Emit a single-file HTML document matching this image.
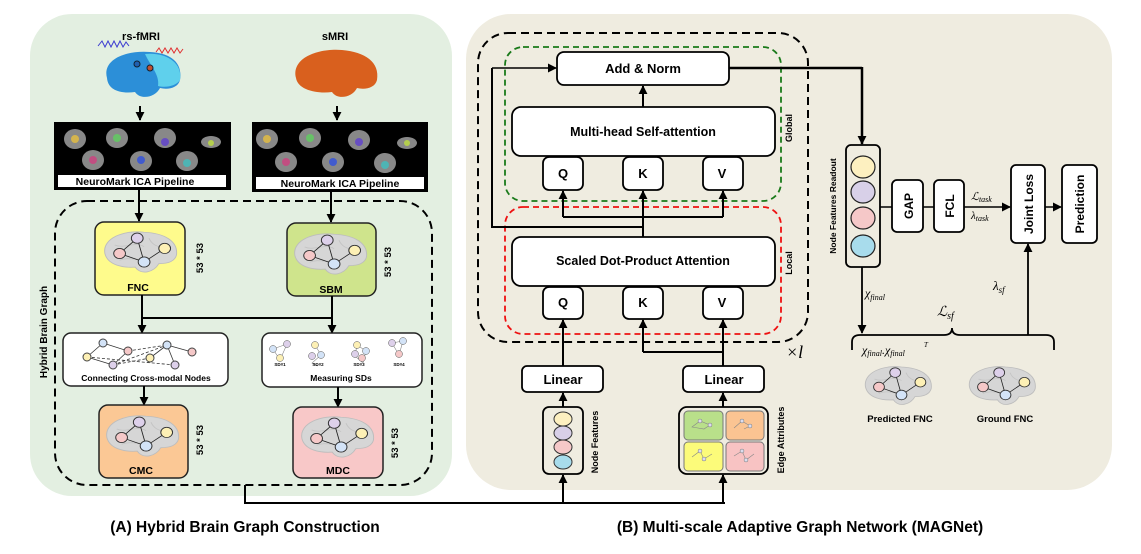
<!DOCTYPE html>
<html><head><meta charset="utf-8"><style>
body{margin:0;background:#fff}
svg{display:block;font-family:"Liberation Sans",Arial,sans-serif}
.b{font-weight:bold}
</style></head><body>
<svg width="1141" height="554" viewBox="0 0 1141 554" xmlns="http://www.w3.org/2000/svg">
<defs>
<marker id="ar" viewBox="0 0 10 10" refX="9" refY="5" markerWidth="9" markerHeight="9" markerUnits="userSpaceOnUse" orient="auto"><path d="M0,0 L10,5 L0,10 z" fill="#000"/></marker>
<g id="brain">
<path d="M5,30 C2,12 25,2 45,5 C65,6 80,15 78,32 C76,40 68,42 60,42 C55,52 42,56 36,46 C24,47 8,44 5,30 Z" fill="#d6d6d6" stroke="#bdbdbd"/>
<path d="M15,20 C25,25 35,15 45,22 M50,12 C55,25 65,20 70,28 M20,38 C30,33 40,40 50,35" fill="none" stroke="#c4c4c4"/>
</g>
<g id="bn">
<use href="#brain"/>
<g stroke="#222" stroke-width="0.9"><line x1="38" y1="12" x2="45" y2="40"/><line x1="20" y1="30" x2="38" y2="12"/><line x1="20" y1="30" x2="45" y2="40"/><line x1="45" y1="40" x2="66" y2="24"/></g>
<circle cx="38" cy="12" r="6" fill="#ddd0ea" stroke="#333"/>
<circle cx="66" cy="24" r="6" fill="#fdf0b5" stroke="#333"/>
<circle cx="20" cy="30" r="6" fill="#f5c8c8" stroke="#333"/>
<circle cx="45" cy="40" r="6" fill="#d3e3f7" stroke="#333"/>
</g>
</defs>

<rect x="30" y="14" width="422" height="482" rx="42" fill="#e3efe1"/>
<rect x="466" y="14" width="646" height="476" rx="45" fill="#efece0"/>

<!-- Panel A -->
<text x="141" y="40" font-size="11" class="b" text-anchor="middle">rs-fMRI</text>
<text x="335" y="40" font-size="11" class="b" text-anchor="middle">sMRI</text>
<path d="M98,46 l4,-5 l3,6 l3,-6 l3,6 l3,-6 l3,6 l3,-6 l3,6 l3,-5 l3,4" fill="none" stroke="#3b3bd0" stroke-width="1"/>
<path d="M156,52 l3,-4 l3,5 l3,-5 l3,5 l3,-5 l3,5 l3,-5 l3,5 l3,-4" fill="none" stroke="#e03030" stroke-width="1"/>
<path d="M107,78 C102,60 125,50 150,52 C170,53 183,62 180,80 C178,88 168,90 160,88 C155,98 140,100 135,92 C120,94 108,90 107,78 Z" fill="#2c8fd8"/>
<path d="M145,54 C165,52 183,62 180,80 C176,86 166,88 158,86 C160,75 150,65 145,54 Z" fill="#5fd0ec"/>
<circle cx="137" cy="64" r="3" fill="#2060b0" stroke="#123"/><circle cx="150" cy="68" r="3" fill="#c05030" stroke="#123"/>
<path d="M296,78 C291,58 318,48 342,50 C365,52 380,62 377,80 C375,88 365,90 357,88 C352,98 337,100 332,92 C317,94 298,90 296,78 Z" fill="#d9601e"/>
<line x1="140" y1="106" x2="140" y2="120" stroke="#000" stroke-width="2" marker-end="url(#ar)"/>
<line x1="337" y1="106" x2="337" y2="120" stroke="#000" stroke-width="2" marker-end="url(#ar)"/>

<rect x="54" y="122" width="177" height="68" fill="#000"/>
<rect x="58" y="175" width="168" height="12" fill="#fff"/>
<text x="135" y="185" font-size="10.5" class="b" text-anchor="middle">NeuroMark ICA Pipeline</text>
<rect x="252" y="122" width="176" height="70" fill="#000"/>
<rect x="256" y="177" width="168" height="12" fill="#fff"/>
<text x="340" y="187" font-size="10.5" class="b" text-anchor="middle">NeuroMark ICA Pipeline</text>
<g fill="#888">
<ellipse cx="75" cy="139" rx="11" ry="10"/><ellipse cx="117" cy="138" rx="11" ry="10"/><ellipse cx="165" cy="138" rx="11" ry="10"/><ellipse cx="211" cy="142" rx="10" ry="6"/>
<ellipse cx="93" cy="160" rx="11" ry="10"/><ellipse cx="141" cy="161" rx="11" ry="10"/><ellipse cx="187" cy="161" rx="11" ry="10"/>
<ellipse cx="267" cy="139" rx="11" ry="10"/><ellipse cx="310" cy="138" rx="11" ry="10"/><ellipse cx="359" cy="140" rx="11" ry="10"/><ellipse cx="407" cy="143" rx="10" ry="6"/>
<ellipse cx="286" cy="162" rx="11" ry="10"/><ellipse cx="333" cy="162" rx="11" ry="10"/><ellipse cx="385" cy="163" rx="11" ry="10"/>
</g>
<g opacity="0.8"><circle cx="75" cy="139" r="4" fill="#e8c040"/><circle cx="117" cy="138" r="4" fill="#60d060"/><circle cx="165" cy="142" r="4" fill="#6040d0"/><circle cx="211" cy="143" r="3" fill="#c0e040"/><circle cx="93" cy="160" r="4" fill="#d04080"/><circle cx="141" cy="160" r="4" fill="#3050e0"/><circle cx="187" cy="163" r="4" fill="#40c0c0"/>
<circle cx="267" cy="139" r="4" fill="#e8c040"/><circle cx="310" cy="138" r="4" fill="#60d060"/><circle cx="359" cy="142" r="4" fill="#6040d0"/><circle cx="407" cy="143" r="3" fill="#c0e040"/><circle cx="286" cy="162" r="4" fill="#d04080"/><circle cx="333" cy="162" r="4" fill="#3050e0"/><circle cx="385" cy="165" r="4" fill="#40c0c0"/></g>

<rect x="55" y="201" width="377" height="284" rx="32" fill="none" stroke="#000" stroke-width="2" stroke-dasharray="8,5"/>
<text transform="translate(47,332) rotate(-90)" font-size="10" class="b" text-anchor="middle">Hybrid Brain Graph</text>

<line x1="139" y1="190" x2="139" y2="221" stroke="#000" stroke-width="2" marker-end="url(#ar)"/>
<line x1="331" y1="192" x2="331" y2="222" stroke="#000" stroke-width="2" marker-end="url(#ar)"/>

<rect x="95" y="222" width="90" height="73" rx="9" fill="#fefb8c" stroke="#222" stroke-width="1.5"/>
<use href="#bn" transform="translate(100,228) scale(0.98,0.85)"/>
<text x="138" y="291" font-size="10.5" class="b" text-anchor="middle">FNC</text>
<rect x="287" y="223" width="89" height="73" rx="9" fill="#cfe48c" stroke="#222" stroke-width="1.5"/>
<use href="#bn" transform="translate(290,230) scale(0.98,0.85)"/>
<text x="331" y="293" font-size="10.5" class="b" text-anchor="middle">SBM</text>
<text transform="translate(203,258) rotate(-90)" font-size="9.5" class="b" text-anchor="middle">53 * 53</text>
<text transform="translate(391,262) rotate(-90)" font-size="9.5" class="b" text-anchor="middle">53 * 53</text>

<path d="M142,295 V318 M332,296 V318 M142,318 H332" stroke="#000" stroke-width="2" fill="none"/>
<line x1="142" y1="318" x2="142" y2="333" stroke="#000" stroke-width="2" marker-end="url(#ar)"/>
<line x1="332" y1="318" x2="332" y2="333" stroke="#000" stroke-width="2" marker-end="url(#ar)"/>

<rect x="63" y="333" width="165" height="53" rx="8" fill="#fff" stroke="#222" stroke-width="1.5"/>
<g stroke="#333" stroke-width="0.8"><line x1="87" y1="357" x2="103" y2="343"/><line x1="103" y1="343" x2="128" y2="351"/><line x1="87" y1="357" x2="113" y2="365"/><line x1="113" y1="365" x2="128" y2="351"/><line x1="167" y1="345" x2="150" y2="358"/><line x1="167" y1="345" x2="175" y2="365"/><line x1="167" y1="345" x2="192" y2="352"/>
<g stroke-dasharray="3,2"><line x1="113" y1="365" x2="150" y2="358"/><line x1="128" y1="351" x2="167" y2="345"/><line x1="87" y1="357" x2="175" y2="365"/><line x1="113" y1="365" x2="167" y2="345"/></g></g>
<circle cx="103" cy="343" r="4" fill="#d3e3f7" stroke="#444"/><circle cx="128" cy="351" r="4" fill="#f5c8c8" stroke="#444"/><circle cx="87" cy="357" r="4" fill="#fdf0b5" stroke="#444"/><circle cx="113" cy="365" r="4" fill="#ddd0ea" stroke="#444"/>
<circle cx="167" cy="345" r="4" fill="#d3e3f7" stroke="#444"/><circle cx="192" cy="352" r="4" fill="#f5c8c8" stroke="#444"/><circle cx="150" cy="358" r="4" fill="#fdf0b5" stroke="#444"/><circle cx="175" cy="365" r="4" fill="#ddd0ea" stroke="#444"/>
<text x="146" y="381" font-size="8.5" class="b" text-anchor="middle">Connecting Cross-modal Nodes</text>

<rect x="262" y="333" width="160" height="54" rx="8" fill="#fff" stroke="#222" stroke-width="1.5"/>
<g stroke="#888" stroke-width="0.6" fill="none"><path d="M273,349 L287,344 L280,360 Z"/><path d="M315,345 L321,355 L312,363 L318,366"/><path d="M357,345 L366,351 L363,363 L355,356 Z"/><path d="M392,343 L403,341 L399,355 Z"/></g>
<g stroke="#555" stroke-width="0.5"><circle cx="273" cy="349" r="3.5" fill="#d3e3f7"/><circle cx="287" cy="344" r="3.5" fill="#ddd0ea"/><circle cx="280" cy="358" r="3.5" fill="#fdf0b5"/>
<circle cx="315" cy="345" r="3.5" fill="#fdf0b5"/><circle cx="321" cy="355" r="3.5" fill="#d3e3f7"/><circle cx="312" cy="356" r="3.5" fill="#ddd0ea"/>
<circle cx="357" cy="345" r="3.5" fill="#fdf0b5"/><circle cx="366" cy="351" r="3.5" fill="#d3e3f7"/><circle cx="362" cy="358" r="3.5" fill="#f5c8c8"/><circle cx="355" cy="354" r="3.5" fill="#ddd0ea"/>
<circle cx="392" cy="343" r="3.5" fill="#ddd0ea"/><circle cx="403" cy="341" r="3.5" fill="#d3e3f7"/><circle cx="399" cy="354" r="3.5" fill="#f5c8c8"/></g>
<g font-size="4.5" class="b" text-anchor="middle"><text x="280" y="366">SD#1</text><text x="318" y="366">SD#2</text><text x="359" y="366">SD#3</text><text x="399" y="366">SD#4</text></g>
<text x="341" y="381" font-size="8.5" class="b" text-anchor="middle">Measuring SDs</text>

<line x1="144" y1="386" x2="144" y2="405" stroke="#000" stroke-width="2" marker-end="url(#ar)"/>
<line x1="338" y1="387" x2="338" y2="407" stroke="#000" stroke-width="2" marker-end="url(#ar)"/>

<rect x="99" y="405" width="89" height="73" rx="9" fill="#fbc895" stroke="#222" stroke-width="1.5"/>
<use href="#bn" transform="translate(102,412) scale(0.98,0.85)"/>
<text x="141" y="474" font-size="10.5" class="b" text-anchor="middle">CMC</text>
<rect x="293" y="407" width="90" height="71" rx="9" fill="#f8c8c8" stroke="#222" stroke-width="1.5"/>
<use href="#bn" transform="translate(297,413) scale(0.98,0.85)"/>
<text x="338" y="474" font-size="10.5" class="b" text-anchor="middle">MDC</text>
<text transform="translate(203,440) rotate(-90)" font-size="9.5" class="b" text-anchor="middle">53 * 53</text>
<text transform="translate(398,443) rotate(-90)" font-size="9.5" class="b" text-anchor="middle">53 * 53</text>

<path d="M245,485 V503 H725" fill="none" stroke="#000" stroke-width="2"/>
<line x1="563" y1="503" x2="563" y2="475" stroke="#000" stroke-width="2" marker-end="url(#ar)"/>
<line x1="723" y1="503" x2="723" y2="475" stroke="#000" stroke-width="2" marker-end="url(#ar)"/>

<!-- Panel B -->
<rect x="478" y="33" width="330" height="309" rx="30" fill="none" stroke="#000" stroke-width="2" stroke-dasharray="8,5"/>
<rect x="505" y="47" width="276" height="154" rx="18" fill="none" stroke="#1a7a1a" stroke-width="1.8" stroke-dasharray="6,4"/>
<rect x="505" y="207" width="276" height="127" rx="18" fill="none" stroke="#ee1111" stroke-width="1.8" stroke-dasharray="6,4"/>
<text transform="translate(792,128) rotate(-90)" font-size="9" class="b" text-anchor="middle">Global</text>
<text transform="translate(792,263) rotate(-90)" font-size="9" class="b" text-anchor="middle">Local</text>
<text x="786" y="358" font-size="18" font-family="Liberation Serif,serif" font-style="italic">×l</text>

<rect x="557" y="52" width="172" height="33" rx="7" fill="#fff" stroke="#000" stroke-width="1.8"/>
<text x="643" y="73" font-size="13" class="b" text-anchor="middle">Add &amp; Norm</text>
<rect x="512" y="107" width="263" height="49" rx="9" fill="#fff" stroke="#000" stroke-width="1.8"/>
<text x="643" y="136" font-size="12.5" class="b" text-anchor="middle">Multi-head Self-attention</text>
<rect x="512" y="237" width="263" height="49" rx="9" fill="#fff" stroke="#000" stroke-width="1.8"/>
<text x="643" y="265" font-size="12.5" class="b" text-anchor="middle">Scaled Dot-Product Attention</text>
<g fill="#fff" stroke="#000" stroke-width="1.8">
<rect x="543" y="157" width="40" height="33" rx="6"/><rect x="623" y="157" width="40" height="33" rx="6"/><rect x="703" y="157" width="40" height="33" rx="6"/>
<rect x="543" y="287" width="40" height="32" rx="6"/><rect x="623" y="287" width="40" height="32" rx="6"/><rect x="703" y="287" width="40" height="32" rx="6"/>
</g>
<g font-size="13" class="b" text-anchor="middle"><text x="563" y="178">Q</text><text x="643" y="178">K</text><text x="722" y="178">V</text><text x="563" y="307">Q</text><text x="643" y="307">K</text><text x="722" y="307">V</text></g>

<line x1="643" y1="107" x2="643" y2="86" stroke="#000" stroke-width="2" marker-end="url(#ar)"/>
<path d="M643,237 V217 M563,217 H723 M643,227 H492 V68" fill="none" stroke="#000" stroke-width="2"/>
<line x1="492" y1="68" x2="556" y2="68" stroke="#000" stroke-width="1.5" marker-end="url(#ar)"/>
<line x1="563" y1="217" x2="563" y2="191" stroke="#000" stroke-width="2" marker-end="url(#ar)"/>
<line x1="643" y1="217" x2="643" y2="191" stroke="#000" stroke-width="2" marker-end="url(#ar)"/>
<line x1="723" y1="217" x2="723" y2="191" stroke="#000" stroke-width="2" marker-end="url(#ar)"/>

<rect x="522" y="366" width="81" height="26" rx="5" fill="#fff" stroke="#000" stroke-width="1.8"/>
<text x="563" y="384" font-size="13" class="b" text-anchor="middle">Linear</text>
<rect x="683" y="366" width="81" height="26" rx="5" fill="#fff" stroke="#000" stroke-width="1.8"/>
<text x="724" y="384" font-size="13" class="b" text-anchor="middle">Linear</text>
<line x1="563" y1="366" x2="563" y2="320" stroke="#000" stroke-width="2" marker-end="url(#ar)"/>
<path d="M723,366 V352 H643" fill="none" stroke="#000" stroke-width="2"/>
<line x1="723" y1="352" x2="723" y2="320" stroke="#000" stroke-width="2" marker-end="url(#ar)"/>
<line x1="643" y1="352" x2="643" y2="320" stroke="#000" stroke-width="2" marker-end="url(#ar)"/>
<line x1="563" y1="407" x2="563" y2="393" stroke="#000" stroke-width="2" marker-end="url(#ar)"/>
<line x1="723" y1="407" x2="723" y2="393" stroke="#000" stroke-width="2" marker-end="url(#ar)"/>

<rect x="543" y="407" width="40" height="67" rx="6" fill="#efece0" stroke="#000" stroke-width="1.8"/>
<g stroke="#333"><ellipse cx="563" cy="419" rx="9" ry="7" fill="#fdf0c0"/><ellipse cx="563" cy="433" rx="9" ry="7" fill="#d8d0e8"/><ellipse cx="563" cy="447" rx="9" ry="7" fill="#f5c8c8"/><ellipse cx="563" cy="462" rx="9" ry="7" fill="#a8dcec"/></g>
<text transform="translate(598,442) rotate(-90)" font-size="9" class="b" text-anchor="middle">Node Features</text>

<rect x="679" y="407" width="89" height="67" rx="8" fill="#efece0" stroke="#000" stroke-width="1.8"/>
<rect x="684" y="411" width="39" height="29" rx="4" fill="#b9e08a" stroke="#777"/>
<rect x="726" y="411" width="38" height="29" rx="4" fill="#fbc492" stroke="#777"/>
<rect x="684" y="442" width="39" height="29" rx="4" fill="#fcfb7a" stroke="#777"/>
<rect x="726" y="442" width="38" height="29" rx="4" fill="#f8c3c3" stroke="#777"/>
<g stroke="#888" stroke-width="0.6" fill="none"><path d="M692,427 L700,421 L710,425 L704,429 Z"/><path d="M734,428 L742,421 L750,426 L744,429"/><path d="M692,457 L700,451 L704,459 L712,454"/><path d="M734,456 L742,451 L746,460 L754,454"/></g>
<g fill="#dde" stroke="#777" stroke-width="0.5"><circle cx="700" cy="421" r="2"/><circle cx="710" cy="425" r="2"/><circle cx="742" cy="421" r="2"/><circle cx="750" cy="426" r="2"/><circle cx="700" cy="451" r="2"/><circle cx="704" cy="459" r="2"/><circle cx="742" cy="451" r="2"/><circle cx="746" cy="460" r="2"/></g>
<text transform="translate(784,440) rotate(-90)" font-size="9" class="b" text-anchor="middle">Edge Attributes</text>

<!-- right side -->
<path d="M729,68 H862" fill="none" stroke="#000" stroke-width="2.5"/>
<line x1="862" y1="67" x2="862" y2="144" stroke="#000" stroke-width="2.5" marker-end="url(#ar)"/>
<rect x="846" y="145" width="34" height="122" rx="5" fill="#efece0" stroke="#000" stroke-width="1.8"/>
<g stroke="#222" stroke-width="1.2"><ellipse cx="863" cy="167" rx="12" ry="11" fill="#fdf0c0"/><ellipse cx="863" cy="192" rx="12" ry="11" fill="#d8d0e8"/><ellipse cx="863" cy="218" rx="12" ry="11" fill="#f5c8c8"/><ellipse cx="863" cy="246" rx="12" ry="11" fill="#a8dcec"/></g>
<text transform="translate(836,206) rotate(-90)" font-size="8.5" class="b" text-anchor="middle">Node Features Readout</text>

<line x1="880" y1="207" x2="892" y2="207" stroke="#000" stroke-width="1.5"/>
<rect x="892" y="180" width="31" height="52" rx="5" fill="#fff" stroke="#000" stroke-width="1.8"/>
<text transform="translate(913,206) rotate(-90)" font-size="12" class="b" text-anchor="middle">GAP</text>
<line x1="923" y1="207" x2="934" y2="207" stroke="#000" stroke-width="1.5"/>
<rect x="934" y="180" width="30" height="52" rx="5" fill="#fff" stroke="#000" stroke-width="1.8"/>
<text transform="translate(954,206) rotate(-90)" font-size="12" class="b" text-anchor="middle">FCL</text>
<line x1="964" y1="207" x2="1010" y2="207" stroke="#000" stroke-width="1.5" marker-end="url(#ar)"/>
<text x="971" y="200" font-size="11" font-family="Liberation Serif,serif" font-style="italic">ℒ<tspan font-size="8" dy="2">task</tspan></text>
<text x="971" y="219" font-size="11" font-family="Liberation Serif,serif" font-style="italic">λ<tspan font-size="8" dy="2">task</tspan></text>
<rect x="1011" y="165" width="34" height="78" rx="5" fill="#fff" stroke="#000" stroke-width="1.8"/>
<text transform="translate(1033,204) rotate(-90)" font-size="12" class="b" text-anchor="middle">Joint Loss</text>
<line x1="1045" y1="207" x2="1061" y2="207" stroke="#000" stroke-width="1.5" marker-end="url(#ar)"/>
<rect x="1062" y="165" width="35" height="78" rx="5" fill="#fff" stroke="#000" stroke-width="1.8"/>
<text transform="translate(1084,204) rotate(-90)" font-size="12" class="b" text-anchor="middle">Prediction</text>

<line x1="862" y1="267" x2="862" y2="333" stroke="#000" stroke-width="1.8" marker-end="url(#ar)"/>
<text x="865" y="297" font-size="12" font-family="Liberation Serif,serif" font-style="italic">χ<tspan font-size="8" dy="3">final</tspan></text>
<path d="M852,350 V342 Q852,335 860,335 H944 Q952,335 952,328 Q952,335 960,335 H1046 Q1054,335 1054,342 V350" fill="none" stroke="#000" stroke-width="1.8"/>
<line x1="1028" y1="335" x2="1028" y2="244" stroke="#000" stroke-width="1.8" marker-end="url(#ar)"/>
<text x="937" y="316" font-size="14" font-family="Liberation Serif,serif" font-style="italic">ℒ<tspan font-size="10" dy="3">sf</tspan></text>
<text x="993" y="290" font-size="13" font-family="Liberation Serif,serif" font-style="italic">λ<tspan font-size="9" dy="3">sf</tspan></text>
<text x="862" y="354" font-size="12" font-family="Liberation Serif,serif" font-style="italic">χ<tspan font-size="8" dy="2">final</tspan><tspan dy="-2">.χ</tspan><tspan font-size="8" dy="2">final</tspan></text>
<text x="924" y="347" font-size="7" font-family="Liberation Serif,serif" font-style="italic">T</text>
<use href="#bn" transform="translate(861,363) scale(0.9,0.8)"/>
<use href="#bn" transform="translate(965,363) scale(0.9,0.8)"/>
<text x="900" y="422" font-size="9.5" class="b" text-anchor="middle">Predicted FNC</text>
<text x="1005" y="422" font-size="9.5" class="b" text-anchor="middle">Ground FNC</text>

<text x="245" y="532" font-size="15.5" class="b" text-anchor="middle">(A) Hybrid Brain Graph Construction</text>
<text x="800" y="532" font-size="15.5" class="b" text-anchor="middle">(B) Multi-scale Adaptive Graph Network (MAGNet)</text>
</svg>
</body></html>
